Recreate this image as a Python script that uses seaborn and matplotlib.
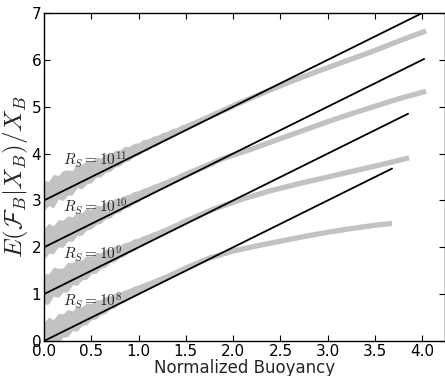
import matplotlib
matplotlib.use('Agg')
import matplotlib.pyplot as plt
import seaborn as sns
import numpy as np

# --- Data ---
labels = [r'$R_S=10^{11}$', r'$R_S=10^{10}$', r'$R_S=10^{9}$', r'$R_S=10^{8}$']

# black reference lines: start (x=0) and end points
fit_y_start = [3.0, 2.0, 1.0, 0.0]
fit_x_end = [4.00, 4.02, 3.85, 3.68]
fit_y_end = [7.00, 6.02, 4.85, 3.68]

# smoothed (thick grey) curves
curve_x = [
    [0.0, 0.5, 1.0, 1.5, 2.0, 2.3, 2.6, 2.9, 3.2, 3.5, 3.75, 4.04],
    [0.0, 0.5, 1.0, 1.5, 1.9, 2.2, 2.5, 2.75, 3.0, 3.25, 3.5, 3.75, 4.04],
    [0.0, 0.5, 1.0, 1.5, 1.8, 2.1, 2.4, 2.7, 3.0, 3.3, 3.6, 3.86],
    [0.0, 0.5, 1.0, 1.5, 1.75, 2.0, 2.25, 2.5, 2.75, 3.0, 3.25, 3.5, 3.68],
]
curve_y = [
    [3.08, 3.58, 4.08, 4.56, 5.02, 5.28, 5.53, 5.76, 5.98, 6.20, 6.40, 6.62],
    [2.08, 2.58, 3.08, 3.56, 3.90, 4.10, 4.32, 4.50, 4.68, 4.85, 5.01, 5.17, 5.33],
    [1.08, 1.58, 2.08, 2.56, 2.82, 3.03, 3.21, 3.36, 3.50, 3.64, 3.78, 3.91],
    [0.08, 0.58, 1.08, 1.56, 1.77, 1.92, 2.03, 2.13, 2.23, 2.32, 2.40, 2.47, 2.51],
]

# noisy spread at low buoyancy, as deviation from the black line
band_x = [0.00, 0.05, 0.10, 0.15, 0.20, 0.25, 0.30, 0.35, 0.40, 0.45,
          0.50, 0.55, 0.60, 0.65, 0.70, 0.75, 0.80, 0.85, 0.90, 0.95,
          1.00, 1.05, 1.10, 1.15, 1.20, 1.25, 1.30, 1.35, 1.40, 1.45,
          1.50, 1.55, 1.60, 1.65, 1.70, 1.75, 1.80, 1.85, 1.90, 1.95, 2.00]
band_hi = [
    [0.42, 0.36, 0.46, 0.38, 0.44, 0.40, 0.34, 0.42, 0.37, 0.40, 0.33, 0.37, 0.31, 0.35,
     0.29, 0.32, 0.27, 0.30, 0.25, 0.27, 0.23, 0.25, 0.21, 0.22, 0.19, 0.20, 0.17, 0.18,
     0.15, 0.16, 0.14, 0.14, 0.12, 0.12, 0.11, 0.10, 0.10, 0.09, 0.08, 0.08, 0.07],
    [0.40, 0.46, 0.36, 0.44, 0.38, 0.42, 0.35, 0.40, 0.34, 0.38, 0.31, 0.35, 0.29, 0.32,
     0.27, 0.29, 0.25, 0.26, 0.23, 0.24, 0.21, 0.21, 0.19, 0.19, 0.17, 0.17, 0.15, 0.15,
     0.13, 0.13, 0.11, 0.11, 0.09, 0.09, 0.08, 0.07, 0.06],
    [0.44, 0.38, 0.48, 0.40, 0.36, 0.43, 0.37, 0.40, 0.33, 0.37, 0.31, 0.34, 0.28, 0.31,
     0.26, 0.28, 0.24, 0.25, 0.22, 0.23, 0.20, 0.20, 0.18, 0.18, 0.16, 0.16, 0.14, 0.14,
     0.12, 0.12, 0.11, 0.10, 0.10, 0.09, 0.09],
    [0.40, 0.46, 0.36, 0.44, 0.38, 0.42, 0.34, 0.39, 0.33, 0.36, 0.30, 0.33, 0.28, 0.30,
     0.26, 0.27, 0.24, 0.24, 0.22, 0.22, 0.20, 0.19, 0.18, 0.17, 0.16, 0.15, 0.14, 0.13,
     0.12, 0.12, 0.11, 0.10, 0.10],
]
band_lo = [
    [-0.22, -0.16, -0.26, -0.12, -0.20, -0.14, -0.18, -0.08, -0.15, -0.10, -0.12, -0.06,
     -0.10, -0.05, -0.08, -0.04, -0.06, -0.03, -0.05, -0.02, -0.03, -0.01, -0.02, 0.00,
     -0.02, 0.00, -0.01, 0.00, -0.01, 0.01, 0.00, 0.00, 0.00, -0.01, 0.00, -0.01, -0.01,
     -0.02, -0.02, -0.03, -0.03],
    [-0.26, -0.18, -0.24, -0.14, -0.20, -0.12, -0.17, -0.10, -0.14, -0.08, -0.11, -0.06,
     -0.09, -0.04, -0.07, -0.03, -0.05, -0.02, -0.04, -0.01, -0.03, 0.00, -0.02, 0.00,
     -0.01, 0.00, -0.01, 0.00, -0.01, 0.00, -0.01, -0.01, -0.02, -0.02, -0.03, -0.03, -0.04],
    [-0.22, -0.26, -0.14, -0.22, -0.16, -0.20, -0.10, -0.16, -0.10, -0.13, -0.06, -0.10,
     -0.05, -0.07, -0.03, -0.05, -0.02, -0.04, -0.01, -0.02, 0.00, -0.01, 0.00, 0.00,
     0.01, 0.00, 0.01, 0.00, 0.01, 0.00, 0.00, 0.00, 0.00, -0.01, -0.01],
    [-0.12, -0.18, -0.10, -0.20, -0.12, -0.16, -0.08, -0.14, -0.07, -0.10, -0.05, -0.08,
     -0.04, -0.06, -0.02, -0.04, -0.01, -0.02, 0.00, -0.01, 0.00, 0.01, 0.01, 0.01,
     0.02, 0.01, 0.02, 0.01, 0.01, 0.01, 0.00, 0.01, 0.00],
]

x_ticks = [0.0, 0.5, 1.0, 1.5, 2.0, 2.5, 3.0, 3.5, 4.0]
y_ticks = [0, 1, 2, 3, 4, 5, 6, 7]

# --- Style ---
sns.set_style('ticks')
plt.rcParams['font.family'] = ['DejaVu Sans']
plt.rcParams['mathtext.fontset'] = 'cm'

grey = '#c2c2c2'

fig = plt.figure(figsize=(4.45, 3.76), dpi=100)
ax = fig.add_axes([44 / 445, 35 / 376, 401 / 445, 328 / 376])

for i in range(4):
    slope = (fit_y_end[i] - fit_y_start[i]) / fit_x_end[i]
    bx = np.array(band_x[:len(band_hi[i])])
    base = fit_y_start[i] + slope * bx
    ax.fill_between(bx, base + np.array(band_lo[i]), base + np.array(band_hi[i]),
                    color=grey, lw=0, zorder=1)
    sns.lineplot(x=curve_x[i], y=curve_y[i], color=grey, lw=3.8, sort=False,
                 estimator=None, ax=ax, zorder=2, solid_capstyle='butt')
    sns.lineplot(x=[0, fit_x_end[i]], y=[fit_y_start[i], fit_y_end[i]], color='black',
                 lw=1.3, sort=False, estimator=None, ax=ax, zorder=3)
    ax.text(0.2, fit_y_start[i] + 0.87, labels[i], fontsize=11, ha='left',
            va='center', zorder=4)

ax.set_xlim(0, 4.24)
ax.set_ylim(0, 7)
ax.set_xticks(x_ticks)
ax.set_xticklabels([f'{t:.1f}' for t in x_ticks])
ax.set_yticks(y_ticks)
ax.tick_params(direction='in', top=True, right=True, length=4, width=0.8,
               pad=2, labelsize=11, colors='black')
for s in ax.spines.values():
    s.set_color('black')
    s.set_linewidth(1.0)

ax.set_xlabel('Normalized Buoyancy', fontsize=12, labelpad=0)
ax.set_ylabel(r'$E\left(\mathcal{F}_B|X_B\right)/X_B$', fontsize=18, labelpad=1)

fig.savefig('out.png', dpi=100)
